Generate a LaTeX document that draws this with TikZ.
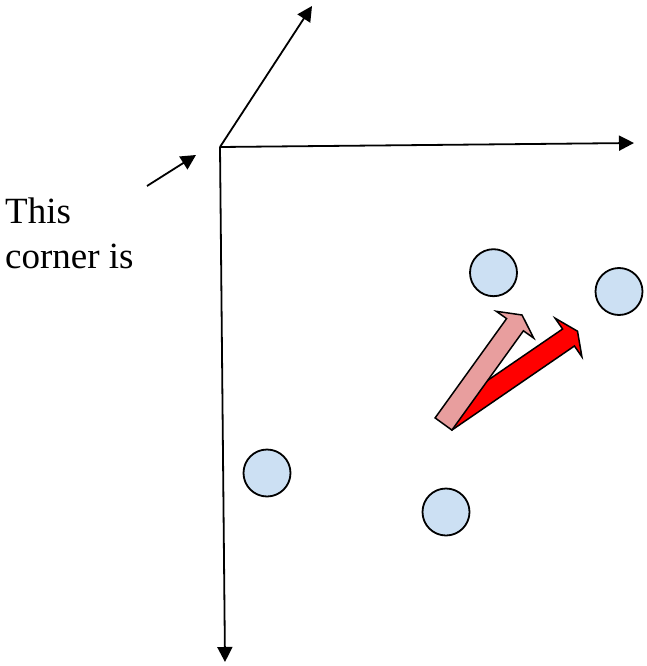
\documentclass[tikz,border=0pt]{standalone}
\usepackage{fontspec}
\setmainfont{Liberation Serif}
\usetikzlibrary{arrows.meta}
\definecolor{ballblue}{RGB}{204,224,243}
\definecolor{pinkarrow}{RGB}{232,158,158}
\tikzset{
  axis/.style={line width=1.8pt,-{Triangle[length=15pt,width=15pt]}},
  ball/.style={circle,draw=black,line width=1.8pt,fill=ballblue,minimum size=47pt,inner sep=0pt},
  blockarrow/.style={draw=black,line width=1.5pt,line join=miter},
  label/.style={font=\fontsize{37}{45}\selectfont,align=left,inner sep=0pt,anchor=north west}
}
\begin{document}
\begin{tikzpicture}[x=1pt,y=-1pt]
\useasboundingbox (0,0) rectangle (647,666);
% axes
\coordinate (o) at (220,147);
\coordinate (up) at (312,6);
\coordinate (right) at (634,143);
\coordinate (down) at (225,662);
\draw[axis] (o) -- (up);
\draw[axis] (o) -- (right);
\draw[axis] (o) -- (down);
% pointer and text
\coordinate (ps) at (147,186);
\coordinate (pe) at (196,155);
\draw[axis] (ps) -- (pe);
\node[label] (txt) at (5,197.5) {This\\corner is};
% balls
\node[ball] (b1) at (493.5,272.7) {};
\node[ball] (b2) at (619,291.5) {};
\node[ball] (b3) at (267,473) {};
\node[ball] (b4) at (446,512) {};
% red block arrow
\draw[blockarrow,fill=red] (440,413) -- (562.6,329) -- (555.1,318.2) -- (577.5,331.2)
  -- (581.9,356.8) -- (574.4,346) -- (452,430) -- cycle;
% pink block arrow
\draw[blockarrow,fill=pinkarrow] (435.1,417.9) -- (506.6,318.6) -- (496.3,311.3) -- (522,315)
  -- (533.7,338.1) -- (523.4,330.8) -- (451.9,430.1) -- cycle;
\end{tikzpicture}
\end{document}
